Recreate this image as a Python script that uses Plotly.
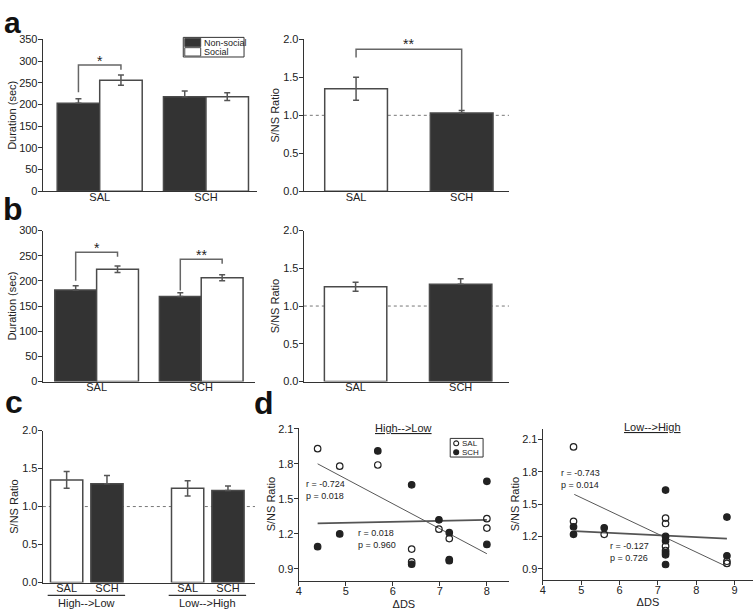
import plotly.graph_objects as go

# ---------------- data ----------------
groups = ["SAL", "SCH"]
conditions = ["Non-social", "Social"]

# panel a: duration (sec) and S/NS ratio
a_nonsocial = [203, 218]
a_nonsocial_err = [10, 13]
a_social = [256, 218]
a_social_err = [12, 9]
a_ratio = [1.35, 1.03]
a_ratio_err = [0.15, 0.035]

# panel b
b_nonsocial = [182, 169]
b_nonsocial_err = [8.5, 7.5]
b_social = [223, 206]
b_social_err = [6.5, 6]
b_ratio = [1.255, 1.29]
b_ratio_err = [0.06, 0.07]

# panel c
c_drug = ["SAL", "SCH", "SAL", "SCH"]
c_shift = ["High-->Low", "High-->Low", "Low-->High", "Low-->High"]
c_ratio = [1.35, 1.30, 1.24, 1.21]
c_err = [0.11, 0.11, 0.10, 0.06]

# panel d (High-->Low)
hl_sal_x = [4.4, 4.87, 5.68, 6.4, 6.4, 6.98, 7.2, 8.0, 8.0]
hl_sal_y = [1.93, 1.78, 1.79, 1.07, 0.96, 1.24, 1.16, 1.33, 1.25]
hl_sch_x = [4.4, 4.87, 5.68, 6.4, 6.4, 6.98, 7.2, 7.2, 7.2, 8.0, 8.0]
hl_sch_y = [1.09, 1.20, 1.91, 1.62, 0.94, 1.32, 1.21, 0.98, 0.97, 1.65, 1.11]
hl_sal_fit_x = [4.4, 8.0]
hl_sal_fit_y = [1.80, 1.03]
hl_sch_fit_x = [4.4, 8.0]
hl_sch_fit_y = [1.29, 1.32]
hl_sal_stats = "r = -0.724<br>p = 0.018"
hl_sch_stats = "r = 0.018<br>p = 0.960"

# panel d (Low-->High)
lh_sal_x = [4.8, 4.8, 5.6, 7.2, 7.2, 7.2, 7.2, 8.8, 8.8]
lh_sal_y = [2.03, 1.34, 1.22, 1.37, 1.32, 1.11, 1.07, 0.97, 0.95]
lh_sch_x = [4.8, 4.8, 5.6, 7.2, 7.2, 7.2, 7.2, 7.2, 7.2, 8.8, 8.8]
lh_sch_y = [1.29, 1.22, 1.28, 1.63, 1.20, 1.16, 1.05, 1.03, 0.94, 1.38, 1.02]
lh_sal_fit_x = [4.82, 8.8]
lh_sal_fit_y = [1.59, 0.92]
lh_sch_fit_x = [4.82, 8.8]
lh_sch_fit_y = [1.25, 1.18]
lh_sal_stats = "r = -0.743<br>p = 0.014"
lh_sch_stats = "r = -0.127<br>p = 0.726"

# ---------------- styling ----------------
W, H = 755, 616
DARK = "#333333"
EDGE = "#4a4a4a"
ERR = "#555555"
TXT = "#222222"
FONT = "Liberation Sans, Arial, sans-serif"


def px(x):
    return x / W


def py(y):
    return 1 - y / H


fig = go.Figure()


def add_bars(x, y, err, colors, xa, ya, width, offset, name=None):
    minus = [e if c == "white" else 0 for e, c in zip(err, colors)]
    fig.add_trace(go.Bar(
        x=x, y=y, width=width, offset=offset, xaxis=xa, yaxis=ya,
        marker=dict(color=colors, line=dict(color=EDGE, width=1.5)),
        error_y=dict(type="data", array=err, arrayminus=minus, symmetric=False,
                     color=ERR, thickness=1.5, width=3),
        name=name, showlegend=False,
    ))


# panel a
add_bars(groups, a_nonsocial, a_nonsocial_err, [DARK] * 2, "x", "y", 0.4, -0.4, conditions[0])
add_bars(groups, a_social, a_social_err, ["white"] * 2, "x", "y", 0.4, 0.0, conditions[1])
add_bars(groups, a_ratio, a_ratio_err, ["white", DARK], "x2", "y2", 0.594, -0.297)
# panel b
add_bars(groups, b_nonsocial, b_nonsocial_err, [DARK] * 2, "x3", "y3", 0.4, -0.4, conditions[0])
add_bars(groups, b_social, b_social_err, ["white"] * 2, "x3", "y3", 0.4, 0.0, conditions[1])
add_bars(groups, b_ratio, b_ratio_err, ["white", DARK], "x4", "y4", 0.594, -0.297)
# panel c
c_pos = [i + i // 2 for i in range(len(c_ratio))]
c_colors = ["white" if d == "SAL" else DARK for d in c_drug]
add_bars(c_pos, c_ratio, c_err, c_colors, "x5", "y5", 0.8, -0.4)


# panel d scatter
def add_scatter(x, y, xa, ya, filled, name):
    fig.add_trace(go.Scatter(
        x=x, y=y, mode="markers", xaxis=xa, yaxis=ya, name=name,
        marker=dict(symbol="circle" if filled else "circle-open", size=6.5,
                    color="#222222", line=dict(color="#222222", width=1.2)),
        showlegend=False,
    ))


def add_fit(x, y, xa, ya, steep):
    fig.add_trace(go.Scatter(
        x=x, y=y, mode="lines", xaxis=xa, yaxis=ya, showlegend=False,
        line=dict(color="#444444" if steep else "#555555", width=0.9 if steep else 1.7),
    ))


add_fit(hl_sal_fit_x, hl_sal_fit_y, "x6", "y6", True)
add_fit(hl_sch_fit_x, hl_sch_fit_y, "x6", "y6", False)
add_scatter(hl_sal_x, hl_sal_y, "x6", "y6", False, "SAL")
add_scatter(hl_sch_x, hl_sch_y, "x6", "y6", True, "SCH")
add_fit(lh_sal_fit_x, lh_sal_fit_y, "x7", "y7", True)
add_fit(lh_sch_fit_x, lh_sch_fit_y, "x7", "y7", False)
add_scatter(lh_sal_x, lh_sal_y, "x7", "y7", False, "SAL")
add_scatter(lh_sch_x, lh_sch_y, "x7", "y7", True, "SCH")

# ---------------- axes ----------------
tfont = dict(size=11, color=TXT, family=FONT)
base = dict(showline=True, linecolor="#333333", linewidth=1.3, showgrid=False,
            zeroline=False, tickfont=tfont, fixedrange=True)
yb = dict(base, ticks="outside", ticklen=4, tickwidth=1.2, tickcolor="#333333",
          ticklabelstandoff=-2)
xb = dict(base, ticks="", ticklabelstandoff=-5)
xs = dict(base, ticks="outside", ticklen=4, tickwidth=1.2, tickcolor="#333333",
          ticklabelstandoff=-4)


def title(t, standoff):
    return dict(text=t, font=dict(size=11, color=TXT, family=FONT), standoff=standoff)


layout_axes = dict(
    xaxis=dict(xb, domain=[px(40), px(255)], range=[-0.535, 1.48], anchor="y"),
    yaxis=dict(yb, domain=[py(189), py(34)], range=[0, 350], dtick=50, anchor="x",
               title=title("Duration (sec)", 0)),
    xaxis2=dict(xb, domain=[px(302), px(508)], range=[-0.495, 1.448], anchor="y2"),
    yaxis2=dict(yb, domain=[py(189), py(34)], range=[0, 2], dtick=0.5, tickformat=".1f",
                anchor="x2", title=title("S/NS Ratio", 1)),
    xaxis3=dict(xb, domain=[px(40), px(253)], range=[-0.514, 1.514], anchor="y3"),
    yaxis3=dict(yb, domain=[py(383), py(229)], range=[0, 300], dtick=50, anchor="x3",
                title=title("Duration (sec)", 0)),
    xaxis4=dict(xb, domain=[px(302), px(508)], range=[-0.493, 1.46], anchor="y4"),
    yaxis4=dict(yb, domain=[py(383), py(229)], range=[0, 2], dtick=0.5, tickformat=".1f",
                anchor="x4", title=title("S/NS Ratio", 1)),
    xaxis5=dict(xb, domain=[px(40), px(253)], range=[-0.59, 4.67], anchor="y5",
                tickmode="array", tickvals=c_pos, ticktext=c_drug),
    yaxis5=dict(yb, domain=[py(588), py(433)], range=[0, 2], dtick=0.5, tickformat=".1f",
                anchor="x5", title=title("S/NS Ratio", 1)),
    xaxis6=dict(xs, domain=[px(297), px(508)], range=[4, 8.47], dtick=1, anchor="y6",
                title=title("ΔDS", 4)),
    yaxis6=dict(yb, domain=[py(586), py(430)], range=[0.8, 2.11], tickmode="array",
                tickvals=[0.9, 1.2, 1.5, 1.8, 2.1], tickformat=".1f", anchor="x6",
                title=title("S/NS Ratio", 0)),
    xaxis7=dict(xs, domain=[px(542), px(753)], range=[4, 9.48], dtick=1, anchor="y7",
                title=title("ΔDS", 3)),
    yaxis7=dict(yb, domain=[py(585), py(431)], range=[0.8, 2.2], tickmode="array",
                tickvals=[0.9, 1.2, 1.5, 1.8, 2.1], tickformat=".1f", anchor="x7",
                title=title("S/NS Ratio", 0)),
)

shapes = []
annotations = []

# dotted reference lines at ratio 1.0
ratio_ref = 1.0
for xa, ya in [("x2", "y2"), ("x4", "y4"), ("x5", "y5")]:
    shapes.append(dict(type="line", xref=f"{xa} domain", yref=ya, x0=0, x1=1,
                       y0=ratio_ref, y1=ratio_ref, layer="below",
                       line=dict(color="#777777", width=1, dash="dot")))


# significance brackets
def bracket(xa, ya, x0, x1, ytop, yl, yr, label, ylab):
    shapes.append(dict(type="path", xref=xa, yref=ya,
                       path=f"M {x0},{yl} L {x0},{ytop} L {x1},{ytop} L {x1},{yr}",
                       line=dict(color="#666666", width=1.5)))
    annotations.append(dict(text=label, xref=xa, yref=ya, x=(x0 + x1) / 2, y=ylab,
                            showarrow=False, yanchor="middle",
                            font=dict(size=14, color=TXT, family=FONT)))


bracket("x", "y", -0.2, 0.2, 291, 228, 280, "*", 300)
bracket("x2", "y2", 0, 1, 1.87, 1.76, 1.07, "**", 1.94)
bracket("x3", "y3", -0.2, 0.2, 257, 200, 248, "*", 266)
bracket("x3", "y3", 0.8, 1.2, 243, 181, 234, "**", 251)

# panel c group labels
for shift in dict.fromkeys(c_shift):
    idx = [p for p, s in zip(c_pos, c_shift) if s == shift]
    shapes.append(dict(type="line", xref="x5", yref="paper", x0=min(idx) - 0.47,
                       x1=max(idx) + 0.45, y0=py(601), y1=py(601),
                       line=dict(color="#333333", width=1.2)))
    annotations.append(dict(text=shift.replace(">", "&gt;"), xref="x5", yref="paper",
                            x=(min(idx) + max(idx)) / 2, y=py(609), showarrow=False,
                            yanchor="middle", font=tfont))

# panel d titles and stats
annotations.append(dict(text="<u>High--&gt;Low</u>", xref="x6 domain", yref="paper",
                        x=0.50, y=py(430), showarrow=False, yanchor="middle", font=tfont))
annotations.append(dict(text="<u>Low--&gt;High</u>", xref="x7 domain", yref="paper",
                        x=0.52, y=py(429), showarrow=False, yanchor="middle", font=tfont))
sfont = dict(size=9, color=TXT, family=FONT)
for txt, xa, ya, x, y in [(hl_sal_stats, "x6", "y6", 4.12, 1.575),
                          (hl_sch_stats, "x6", "y6", 5.22, 1.16),
                          (lh_sal_stats, "x7", "y7", 4.42, 1.735),
                          (lh_sch_stats, "x7", "y7", 5.70, 1.055)]:
    annotations.append(dict(text=txt, xref=xa, yref=ya, x=x, y=y, showarrow=False,
                            xanchor="left", yanchor="middle", align="left", font=sfont))

# legend for panel a (compact boxed key)
lfont = dict(size=9, color=TXT, family=FONT)
shapes.append(dict(type="rect", xref="paper", yref="paper", x0=px(181), x1=px(242),
                   y0=py(52), y1=py(32), line=dict(color="#333333", width=1),
                   fillcolor="white"))
for i, (name, col) in enumerate(zip(conditions, [DARK, "white"])):
    top = 33 + 9.5 * i
    shapes.append(dict(type="rect", xref="paper", yref="paper", x0=px(182.5), x1=px(198.5),
                       y0=py(top + 8.5), y1=py(top), fillcolor=col,
                       line=dict(color=EDGE, width=1)))
    annotations.append(dict(text=name, xref="paper", yref="paper", x=px(200),
                            y=py(top + 4.5), xanchor="left", yanchor="middle",
                            showarrow=False, font=lfont))

# legend for panel d
shapes.append(dict(type="rect", xref="paper", yref="paper", x0=px(449), x1=px(482),
                   y0=py(460), y1=py(441), line=dict(color="#333333", width=1),
                   fillcolor="white"))
for i, (name, filled) in enumerate(zip(groups, [False, True])):
    cy = 446 + 9 * i
    shapes.append(dict(type="circle", xref="paper", yref="paper", x0=px(452.5), x1=px(457.5),
                       y0=py(cy + 2.5), y1=py(cy - 2.5),
                       fillcolor="#222222" if filled else "white",
                       line=dict(color="#222222", width=1.1)))
    annotations.append(dict(text=name, xref="paper", yref="paper", x=px(459.5), y=py(cy),
                            xanchor="left", yanchor="middle", showarrow=False, borderpad=0,
                            font=dict(size=8, color=TXT, family=FONT)))

# panel letters
for letter, x, y, s in [("a", 10, 17, 30), ("b", 10, 207, 32), ("c", 11, 404, 32),
                        ("d", 262, 405, 32)]:
    annotations.append(dict(text=f"<b>{letter}</b>", xref="paper", yref="paper",
                            x=px(x), y=py(y), showarrow=False, xanchor="center",
                            yanchor="middle", borderpad=0,
                            font=dict(size=s, color="#111111", family=FONT)))

fig.update_layout(
    width=W, height=H, margin=dict(l=0, r=0, t=0, b=0),
    paper_bgcolor="white", plot_bgcolor="white", showlegend=False,
    barmode="overlay", font=dict(family=FONT, color=TXT),
    shapes=shapes, annotations=annotations,
    **layout_axes,
)

fig.write_html("out.html", config={"displayModeBar": False},
               post_script="document.body.style.margin='0';")
